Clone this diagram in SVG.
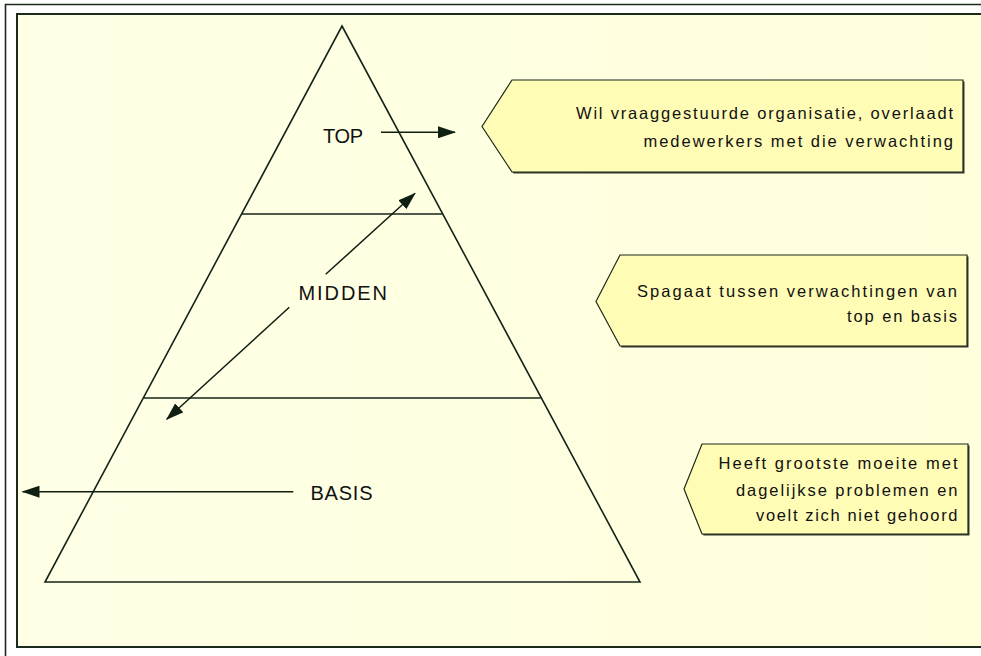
<svg xmlns="http://www.w3.org/2000/svg" width="981" height="656" viewBox="0 0 981 656">
  <style>
    .frame { fill: none; stroke: #1c2a1c; stroke-width: 1.6; }
    .lbl { font-family: "Liberation Sans", Arial, sans-serif; font-size: 20px; fill: #111; }
    .txt { font-family: "Liberation Sans", Arial, sans-serif; font-size: 16.5px; fill: #111; text-anchor: end; }
    .edge { fill: none; stroke: #14241a; stroke-width: 1.6; }
    .conn { fill: none; stroke: #0f1f12; stroke-width: 1.5; marker-end: url(#head); }
    .call { fill: #fffcb6; stroke: #1c2a1c; stroke-width: 1.2; }
    .shadow { fill: #3a3a30; }
  </style>
  <defs>
    <marker id="head" viewBox="0 0 18 12" refX="17" refY="6" markerWidth="18" markerHeight="12" markerUnits="userSpaceOnUse" orient="auto">
      <path d="M0,0 L18,6 L0,12 Z" fill="#0f1f12"/>
    </marker>
    <linearGradient id="bg" x1="0" y1="0" x2="1" y2="0">
      <stop offset="0" stop-color="#ffffe6"/>
      <stop offset="1" stop-color="#ffffdc"/>
    </linearGradient>
    <linearGradient id="tri" x1="0" y1="0" x2="1" y2="0">
      <stop offset="0" stop-color="#ffffd0"/>
      <stop offset="0.5" stop-color="#ffffc4"/>
      <stop offset="1" stop-color="#ffffcc"/>
    </linearGradient>
  </defs>

  <!-- page -->
  <rect x="0" y="0" width="981" height="656" fill="#ffffff"/>
  <path d="M5.5,656 V4.5 H981" class="frame"/>
  <rect x="17" y="14" width="980" height="633" fill="url(#bg)" stroke="#1c2a1c" stroke-width="2"/>

  <!-- pyramid -->
  <g id="pyramid">
    <polygon points="342,26 640,582 45,582" fill="url(#tri)" class="edge"/>
    <line x1="241.6" y1="214" x2="442.4" y2="214" class="edge"/>
    <line x1="143.3" y1="398" x2="540.7" y2="398" class="edge"/>
  </g>

  <g id="level-top">
    <text class="lbl" x="323" y="143" textLength="40" lengthAdjust="spacing">TOP</text>
  </g>
  <g id="level-midden">
    <text class="lbl" x="298.5" y="299.5" textLength="88.5" lengthAdjust="spacing">MIDDEN</text>
  </g>
  <g id="level-basis">
    <text class="lbl" x="310.5" y="499.5" textLength="62" lengthAdjust="spacing">BASIS</text>
  </g>

  <!-- callouts -->
  <g id="note-top">
    <polygon class="shadow" points="513.5,81.5 964.5,81.5 964.5,173.5 513.5,173.5 483.5,128"/>
    <polygon class="call" points="512,80 963,80 963,172 512,172 482,126.5"/>
    <text class="txt" x="953" y="118.5" textLength="377" lengthAdjust="spacing">Wil vraaggestuurde organisatie, overlaadt</text>
    <text class="txt" x="953" y="146.5" textLength="309.5" lengthAdjust="spacing">medewerkers met die verwachting</text>
  </g>
  <g id="note-midden">
    <polygon class="shadow" points="621.5,256.5 968.5,256.5 968.5,347.5 621.5,347.5 597.5,303"/>
    <polygon class="call" points="620,255 967,255 967,346 620,346 596,301.5"/>
    <text class="txt" x="957" y="296.5" textLength="320" lengthAdjust="spacing">Spagaat tussen verwachtingen van</text>
    <text class="txt" x="957" y="321.5" textLength="110" lengthAdjust="spacing">top en basis</text>
  </g>
  <g id="note-basis">
    <polygon class="shadow" points="703.5,445.5 969.5,445.5 969.5,535.5 703.5,535.5 685.5,490.5"/>
    <polygon class="call" points="702,444 968,444 968,534 702,534 684,489"/>
    <text class="txt" x="957.5" y="469" textLength="239" lengthAdjust="spacing">Heeft grootste moeite met</text>
    <text class="txt" x="957.5" y="495.5" textLength="221.5" lengthAdjust="spacing">dagelijkse problemen en</text>
    <text class="txt" x="957.5" y="521" textLength="201.5" lengthAdjust="spacing">voelt zich niet gehoord</text>
  </g>

  <!-- connectors -->
  <g id="connectors">
    <line class="conn" x1="381" y1="132.3" x2="455" y2="132.3"/>
    <line class="conn" x1="325.7" y1="274.3" x2="415" y2="193.3"/>
    <line class="conn" x1="289.3" y1="307.3" x2="166.7" y2="419.3"/>
    <line class="conn" x1="293.3" y1="491.7" x2="22.5" y2="491.7"/>
  </g>
</svg>
